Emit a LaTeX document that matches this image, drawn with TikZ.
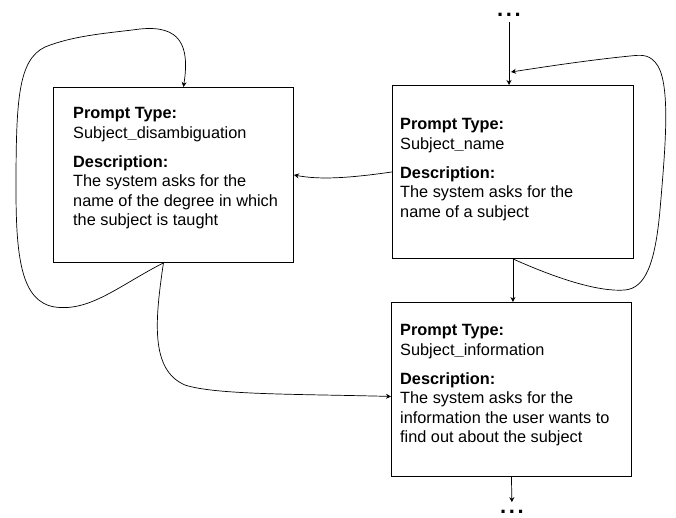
\documentclass[tikz,border=0pt]{standalone}
\usepackage{fontspec}
\setmainfont{Liberation Sans}
\usetikzlibrary{arrows.meta,calc}
\begin{document}
\begin{tikzpicture}[x=1pt,y=-1pt,
  box/.style={draw, line width=0.9pt, inner sep=0pt, anchor=north west},
  txt/.style={anchor=north west, inner sep=0pt, align=left, font=\fontsize{16.3}{19.5}\selectfont},
  conn/.style={line width=0.7pt, -{Stealth[length=5pt,width=5pt]}},
  dotnode/.style={font=\fontsize{22}{22}\selectfont\bfseries, inner sep=0.5pt}]
\useasboundingbox (0,0) rectangle (676,517);
% boxes
\node[box, minimum width=240pt, minimum height=175pt] (A) at (53,87) {};
\node[box, minimum width=241pt, minimum height=173pt] (B) at (392,85) {};
\node[box, minimum width=240pt, minimum height=174pt] (C) at (391,302) {};
% texts
\node[txt] (Atext) at (73,107.5) {\textbf{Prompt Type:}\\Subject\textbf{\_}disambiguation\\[9.5pt]\textbf{Description:}\\The system asks for the\\name of the degree in which\\the subject is taught};
\node[txt] (Btext) at (400,118.5) {\textbf{Prompt Type:}\\Subject\textbf{\_}name\\[9.5pt]\textbf{Description:}\\The system asks for the\\name of a subject};
\node[txt] (Ctext) at (400,324.5) {\textbf{Prompt Type:}\\Subject\textbf{\_}information\\[9.5pt]\textbf{Description:}\\The system asks for the\\information the user wants to\\find out about the subject};
% dots
\node[dotnode] (topdots) at (509,15) {.\hspace{2.6pt}.\hspace{2.6pt}.};
\node[dotnode] (botdots) at (512,511.5) {.\hspace{2.6pt}.\hspace{2.6pt}.};
% connectors
\coordinate (Bin) at (511,72);
\coordinate (Aout) at ($(A.south)+(-10,0)$);
\coordinate (Ain) at ($(A.north)+(10,0)$);
\coordinate (Cin) at ($(C.west)+(0,7)$);
\draw[conn] (topdots.south) ++(0,5) -- (topdots.south |- B.north);
\draw[conn] (B.south) -- (B.south |- C.north);
\draw[conn, shorten >=7pt] (C.south) -- (botdots.north);
\draw[conn] (B.south) .. controls (560,280) and (600,292) .. (625,290)
  .. controls (645,288) and (655,265) .. (660,210)
  .. controls (665,150) and (672,80) .. (655,62)
  .. controls (648,54) and (640,55) .. (630,56)
  .. controls (590,60) and (550,66) .. (Bin);
\draw[conn] (B.west) .. controls (350,178) and (320,180) .. (A.east);
\draw[conn] (Aout) .. controls (120,285) and (90,312) .. (55,307)
  .. controls (22,302) and (16,260) .. (16,190)
  .. controls (16,100) and (18,60) .. (45,47)
  .. controls (75,35) and (110,33) .. (140,29)
  .. controls (180,25) and (190,45) .. (Ain);
\draw[conn] (Aout) .. controls (155,320) and (150,370) .. (185,385)
  .. controls (215,395) and (300,394) .. (Cin);
\end{tikzpicture}
\end{document}
